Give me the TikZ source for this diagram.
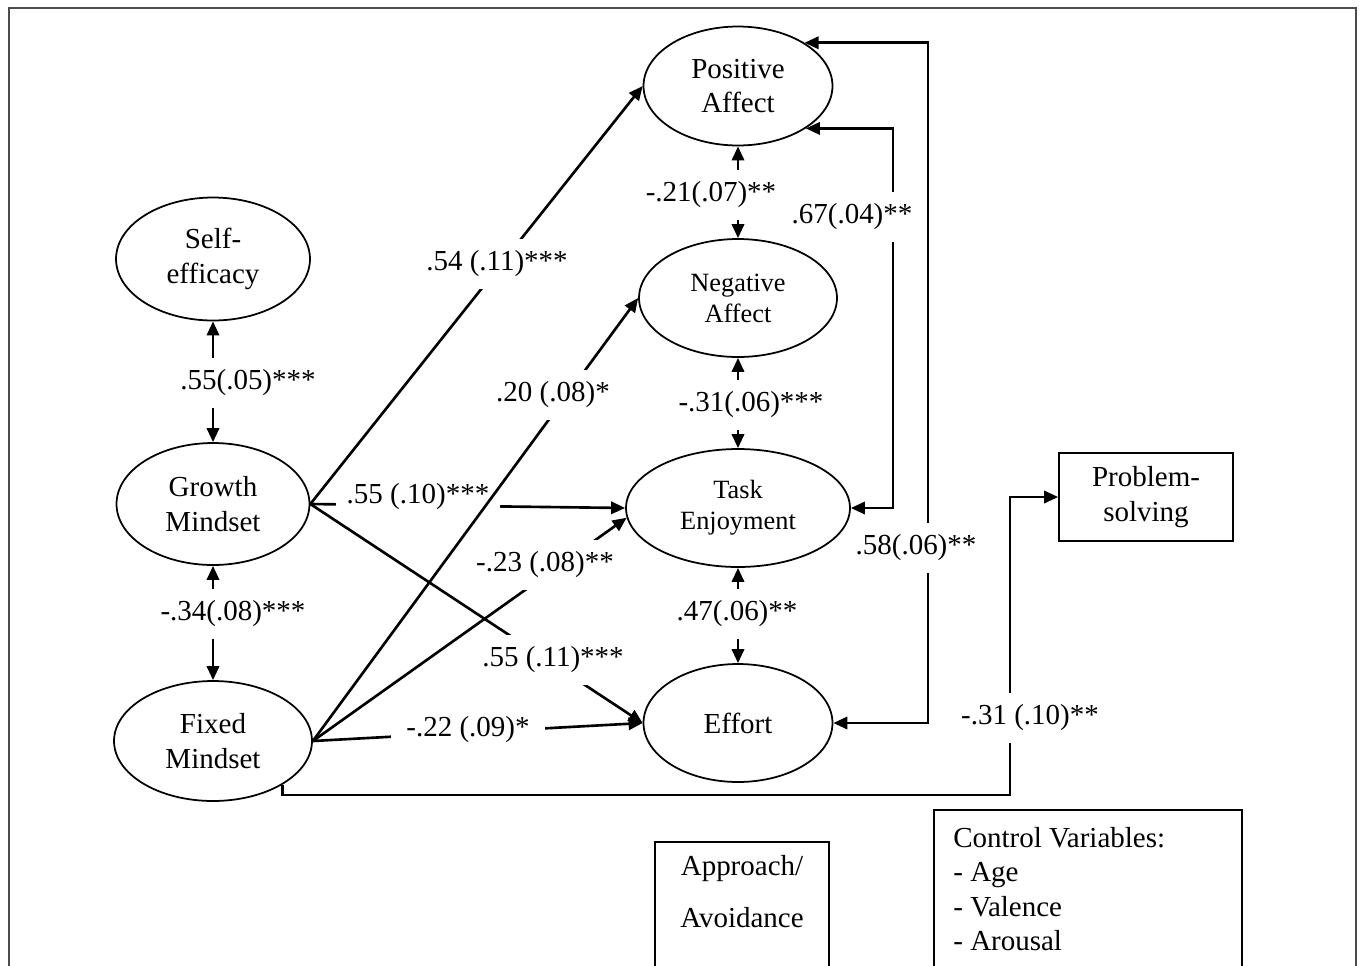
\documentclass[tikz,border=0pt]{standalone}
\usepackage{fontspec}
\setmainfont{Liberation Serif}
\usetikzlibrary{arrows.meta,shapes.geometric}
\newcommand{\lvfont}{\fontsize{16.5}{19.5}\selectfont}
\newcommand{\lvsmall}{\fontsize{15}{17.6}\selectfont}
\tikzset{
  latent/.style   = {ellipse,draw,line width=1pt,align=center,inner sep=0pt,font=\lvfont},
  observed/.style = {rectangle,draw,line width=1pt,align=center,font=\lvfont},
  plain/.style    = {inner sep=0pt,font=\lvfont},
  patharr/.style  = {-{Triangle[length=8pt,width=7pt]},line width=1.5pt},
  covarr/.style   = {{Triangle[length=8pt,width=7pt]}-{Triangle[length=8pt,width=7pt]},line width=1.5pt},
  coef/.style     = {fill=white,inner xsep=9pt,inner ysep=7pt,font=\lvfont}
}

\begin{document}
\begin{tikzpicture}[x=0.02cm,y=-0.02cm]
  \useasboundingbox (0,0) rectangle (1360,965);
  \clip (0,0) rectangle (1360,965);
  \draw[black!70,line width=1pt] (9,8) rectangle (1356,1000);

  % latent variables
  \node[latent,minimum width=3.88cm,minimum height=2.46cm] (se) at (213,259) {Self-\\efficacy};
  \node[latent,minimum width=3.86cm,minimum height=2.44cm] (gm) at (213,504) {Growth\\Mindset};
  \node[latent,minimum width=3.96cm,minimum height=2.40cm] (fm) at (213,741) {Fixed\\Mindset};
  \node[latent,minimum width=3.78cm,minimum height=2.38cm] (pa) at (738,86) {Positive\\Affect};
  \node[latent,minimum width=3.96cm,minimum height=2.36cm,font=\lvsmall] (na) at (738,298) {Negative\\Affect};
  \node[latent,minimum width=4.48cm,minimum height=2.36cm,font=\lvsmall] (te) at (738,508) {Task\\Enjoyment};
  \node[latent,minimum width=3.78cm,minimum height=2.36cm] (ef) at (738,723) {Effort};

  % observed
  \node[observed,minimum width=3.48cm,minimum height=1.76cm] (ps) at (1146,497) {Problem-\\solving};
  \node[observed,anchor=north,minimum width=3.48cm,minimum height=3.4cm] (ap) at (742,841) {};
  \node[plain,align=center,anchor=north] (aptxt) at (742,855) {Approach/\\[10pt]Avoidance};
  \node[observed,anchor=north west,minimum width=6.16cm,minimum height=4cm] (cv) at (933,809) {};
  \node[plain,align=left,anchor=north west] (cvtxt) at (953,827) {Control Variables:\\- Age\\- Valence\\- Arousal};

  % regression paths
  \draw[patharr] (gm.east) -- (te.west);
  \node[coef,inner xsep=6pt] (cGmTe) at (418,497) {.55 (.10)***};
  \draw[patharr] (gm.east) -- (pa.west);
  \node[coef] (cGmPa) at (497,264) {.54 (.11)***};
  \draw[patharr] (gm.east) -- (ef.west);
  \node[coef] (cGmEf) at (553,660) {.55 (.11)***};
  \draw[patharr] (fm.east) -- (ef.west);
  \node[coef] (cFmEf) at (468,730) {-.22 (.09)*};
  \draw[patharr] (fm.east) -- (te.185);
  \node[coef] (cFmTe) at (545,565) {-.23 (.08)**};
  \draw[patharr] (fm.east) -- (na.west);
  \node[coef] (cFmNa) at (553,395) {.20 (.08)*};

  % covariances
  \draw[covarr] (se) -- (gm);
  \node[coef] (cSeGm) at (248,383) {.55(.05)***};
  \draw[covarr] (gm) -- (fm);
  \node[coef] (cGmFm) at (233,614) {-.34(.08)***};
  \draw[covarr] (pa) -- (na);
  \node[coef] (cPaNa) at (711,195) {-.21(.07)**};
  \draw[covarr] (na) -- (te);
  \node[coef] (cNaTe) at (751,405) {-.31(.06)***};
  \draw[covarr] (te) -- (ef);
  \node[coef] (cTeEf) at (737,614) {.47(.06)**};

  \coordinate (rail67) at (893,0);
  \coordinate (rail58) at (928,0);
  \draw[covarr] (pa.-32) -- (pa.-32 -| rail67) -- (te.east -| rail67) -- (te.east);
  \node[coef,inner xsep=4pt] (cPaTe) at (852,217) {.67(.04)**};
  \draw[covarr] (pa.33) -- (pa.33 -| rail58) -- (ef.east -| rail58) -- (ef.east);
  \node[coef,inner xsep=4pt] (cPaEf) at (916,548) {.58(.06)**};

  % fixed mindset to problem-solving
  \coordinate (botrail) at (0,795);
  \coordinate (psrail) at (1010,0);
  \draw[patharr] (fm.-32) |- (psrail |- botrail) -- (psrail |- ps.west) -- (ps.west);
  \node[coef] (cFmPs) at (1030,718) {-.31 (.10)**};
\end{tikzpicture}
\end{document}
